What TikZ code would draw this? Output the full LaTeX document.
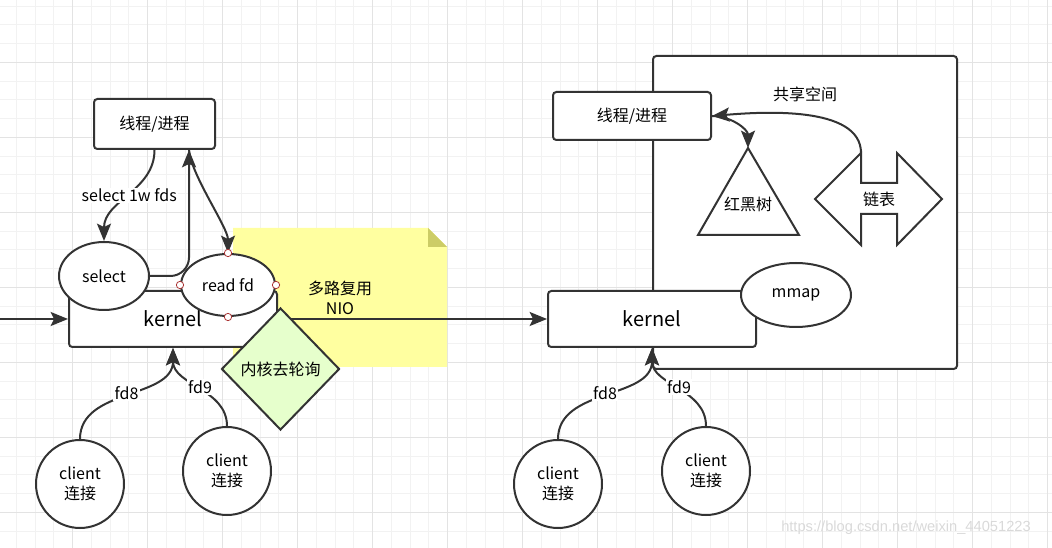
\documentclass[tikz,border=0pt]{standalone}
\usepackage{fontspec}
\setmainfont{Noto Sans CJK SC}
\newfontfamily\wmfont{Liberation Sans}
\usetikzlibrary{arrows.meta,shapes.geometric}

\definecolor{linec}{HTML}{333333}
\definecolor{gridminor}{HTML}{F2F2F2}
\definecolor{gridmajor}{HTML}{E3E3E3}
\definecolor{notefill}{HTML}{FFFFA0}
\definecolor{notefold}{HTML}{CCCC66}
\definecolor{diafill}{HTML}{E6FFCC}
\definecolor{handlec}{HTML}{AA3333}

\begin{document}
\begin{tikzpicture}[x=0.75pt,y=-0.75pt,
    font=\fontsize{12}{15}\selectfont,
    box/.style={draw=linec,line width=1.5pt,rounded corners=2.5pt,fill=white,inner sep=0pt},
    oval/.style={draw=linec,line width=1.5pt,ellipse,fill=white,inner sep=0pt},
    client/.style={draw=linec,line width=1.5pt,circle,fill=white,minimum size=66pt,inner sep=0pt,align=center},
    conn/.style={draw=linec,line width=1.5pt,-{Stealth[length=13pt,width=10.5pt,inset=2.5pt]}},
    lbl/.style={fill=white,inner sep=1pt},
    handle/.style={draw=handlec,fill=white,circle,minimum size=5.5pt,inner sep=0pt,line width=0.6pt}]
  \useasboundingbox (0,0) rectangle (1052,548);

  % grid
  \foreach \i in {0,...,55}
    \draw[gridminor,line width=0.75pt] ({16.45+18.75*\i},0) -- ({16.45+18.75*\i},548);
  \foreach \j in {0,...,28}
    \draw[gridminor,line width=0.75pt] (0,{6.05+18.75*\j}) -- (1052,{6.05+18.75*\j});
  \foreach \i in {3,7,...,55}
    \draw[gridmajor,line width=0.75pt] ({16.45+18.75*\i},0) -- ({16.45+18.75*\i},548);
  \foreach \j in {3,7,...,27}
    \draw[gridmajor,line width=0.75pt] (0,{6.05+18.75*\j}) -- (1052,{6.05+18.75*\j});

  % note
  \fill[notefill] (233,228) -- (428,228) -- (447,247) -- (447,367) -- (233,367) -- cycle;
  \fill[notefold] (428,228) -- (447,247) -- (428,247) -- cycle;
  \node (mux) at (340,298) [align=center] {多路复用\\NIO};

  % shared space
  \node[box,minimum width=228pt,minimum height=234.75pt] (shm) at (805,212.5) {};
  \node (share) at (805,94) {共享空间};

  % left side
  \node[box,minimum width=90.75pt,minimum height=37.5pt] (procL) at (154.5,124) {线程/进程};
  \node[box,minimum width=156pt,minimum height=42pt,font=\fontsize{15}{18}\selectfont] (kernL) at (173,319) {kernel};
  \node[oval,minimum width=67.5pt,minimum height=51pt] (sel) at (104,276) {select};
  \node[oval,minimum width=70.5pt,minimum height=46.5pt] (readfd) at (228,285) {read fd};
  \node[client] (cl1) at (80,484) {client\\连接};
  \node[client] (cl2) at (227,471) {client\\连接};
  \coordinate (entry) at (0,319);
  \coordinate (tip) at ([xshift=25.9pt]procL.south);

  % right side
  \node[box,minimum width=118.5pt,minimum height=36pt] (procR) at (632,116) {线程/进程};
  \node[box,minimum width=156pt,minimum height=42pt,font=\fontsize{15}{18}\selectfont] (kernR) at (652,319) {kernel};
  \node[oval,minimum width=82.5pt,minimum height=48pt] (mmap) at (796,295) {mmap};
  \draw[linec,line width=1.5pt,line join=miter] (748,148) -- (799,235) -- (698,235) -- cycle;
  \coordinate (apex) at (748,148);
  \node (rbt) at (748,204) {红黑树};
  \draw[linec,line width=1.5pt,line join=miter] (815,199) -- (861,153) -- (861,183) -- (897,183) -- (897,153)
    -- (942,199) -- (897,245) -- (897,214) -- (861,214) -- (861,245) -- cycle;
  \node (list) at (879,199) {链表};
  \coordinate (lhead) at (861,153);
  \node[client] (cr1) at (558,484) {client\\连接};
  \node[client] (cr2) at (706,471) {client\\连接};

  % connectors
  \draw[conn] (entry) -- (kernL.west);
  \draw[conn] (kernL.east) -- (kernR.west);
  \draw[conn] (procL.south) to[out=-90,in=90] node[lbl] {select 1w fds} (sel.north);
  \draw[conn,rounded corners=14pt] (sel.east) -| (tip);
  \draw[conn] (tip) to[out=-85,in=90,looseness=0.6] (readfd.north);
  \draw[conn] (cl1.north) to[out=90,in=-90] node[lbl] {fd8} (kernL.south);
  \draw[conn] (cl2.north) to[out=90,in=-90] node[lbl] {fd9} (kernL.south);
  \draw[conn] (cr1.north) to[out=90,in=-90] node[lbl] {fd8} (kernR.south);
  \draw[conn] (cr2.north) to[out=90,in=-90] node[lbl] {fd9} (kernR.south);
  \draw[conn] (lhead) .. controls (861,105) and (760,112) .. (procR.east);
  \draw[conn] (procR.east) to[out=0,in=90] (apex);

  % polling diamond
  \node[draw=linec,line width=1.5pt,diamond,fill=diafill,minimum width=88.5pt,minimum height=91.5pt,inner sep=0pt] (poll) at (280.5,369) {内核去轮询};

  % selection handles
  \foreach \a in {north,south,east,west}
    \node[handle] (h\a) at (readfd.\a) {};

  \node[text=gray!30,font=\wmfont\fontsize{11}{13}\selectfont] (wm) at (906,528) {https://blog.csdn.net/weixin\_44051223};
\end{tikzpicture}
\end{document}
